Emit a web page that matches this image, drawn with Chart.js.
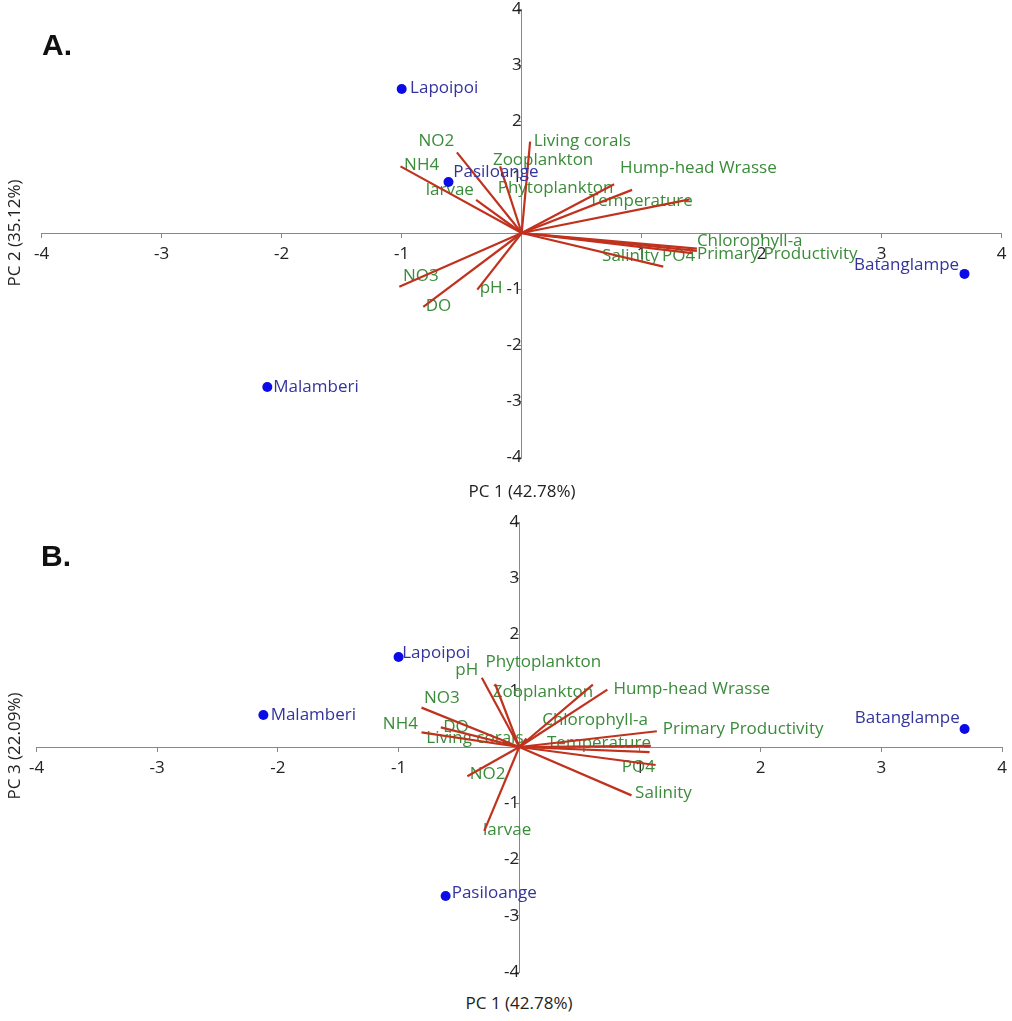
<!DOCTYPE html>
<html>
<head>
<meta charset="utf-8">
<script src="https://cdn.jsdelivr.net/npm/chart.js@4.4.0/dist/chart.umd.min.js"></script>
<style>
    body { margin: 0; background: #fff; font-family: 'Open Sans', sans-serif; }
    #page { position: relative; width: 1012px; height: 1021px; overflow: hidden; }
    canvas { position: absolute; left: 0; }
    .panel { position: absolute; font: bold 30px 'Liberation Sans', Arial, sans-serif; line-height: 30px; color: #111; }
    .xtitle, .ytitle { position: absolute; width: 300px; text-align: center; font-size: 17px; line-height: 20px; color: #222; }
    .ytitle { transform: rotate(-90deg); }
</style>
</head>
<body>
<div id="page">
    <canvas id="chartA" width="1012" height="470" style="top:0"></canvas>
    <canvas id="chartB" width="1012" height="490" style="top:500px"></canvas>
    <div class="panel" style="left:42px; top:30px">A.</div>
    <div class="panel" style="left:41px; top:541px">B.</div>
    <div class="xtitle" style="left:372px; top:481px">PC 1 (42.78%)</div>
    <div class="xtitle" style="left:369px; top:993px">PC 1 (42.78%)</div>
    <div class="ytitle" style="left:-136px; top:223px">PC 2 (35.12%)</div>
    <div class="ytitle" style="left:-136px; top:736px">PC 3 (22.09%)</div>
</div>
<script>
// variable loadings (biplot vectors)
const variables = ['NH4', 'NO2', 'larvae', 'NO3', 'DO', 'pH', 'Living corals', 'Zooplankton',
    'Phytoplankton', 'Hump-head Wrasse', 'Temperature', 'Chlorophyll-a', 'Primary Productivity', 'PO4', 'Salinity'];
const vecPC1a = [-1.01, -0.54, -0.38, -1.02, -0.82, -0.37, 0.07, -0.18, 0.77, 0.92, 1.40, 1.46, 1.46, 1.42, 1.18];
const vecPC2a = [1.19, 1.44, 0.59, -0.96, -1.32, -1.01, 1.63, 1.19, 0.87, 0.77, 0.60, -0.28, -0.32, -0.36, -0.60];
const vecPC1b = [-0.81, -0.43, -0.29, -0.81, -0.65, -0.31, 0.06, -0.20, 0.61, 0.73, 1.08, 1.09, 1.14, 1.13, 0.93];
const vecPC3b = [0.26, -0.52, -1.49, 0.70, 0.35, 1.23, 0.15, 1.12, 1.11, 1.02, -0.09, 0.02, 0.28, -0.32, -0.86];

// where the variable names sit
const varLabelXa = [-0.98, -0.86, -0.80, -0.99, -0.80, -0.35, 0.10, -0.24, -0.20, 0.82, 0.56, 1.46, 1.46, 1.17, 0.67];
const varLabelYa = [1.21, 1.64, 0.76, -0.77, -1.30, -0.99, 1.64, 1.30, 0.80, 1.16, 0.56, -0.14, -0.38, -0.42, -0.42];
const varLabelXb = [-1.13, -0.41, -0.30, -0.79, -0.63, -0.53, -0.77, -0.22, -0.28, 0.78, 0.23, 0.19, 1.19, 0.85, 0.96];
const varLabelYb = [0.41, -0.48, -1.47, 0.86, 0.36, 1.36, 0.15, 0.97, 1.51, 1.03, 0.07, 0.47, 0.31, -0.35, -0.82];

// site scores
const sites = ['Lapoipoi', 'Pasiloange', 'Malamberi', 'Batanglampe'];
const sitePC1 = [-1.00, -0.61, -2.12, 3.69];
const sitePC2 = [2.57, 0.91, -2.75, -0.73];
const sitePC3 = [1.60, -2.65, 0.57, 0.32];
const siteLabelXa = [-0.93, -0.57, -2.07, 2.77];
const siteLabelYa = [2.59, 1.09, -2.75, -0.57];
const siteLabelXb = [-0.97, -0.56, -2.06, 2.78];
const siteLabelYb = [1.66, -2.60, 0.56, 0.51];

const axisMin = -4;
const axisMax = 4;

const VECTOR_COLOR = '#c0321e';
const VAR_COLOR = '#3a8c3a';
const SITE_COLOR = '#34349c';
const LABEL_FONT = '17px "Open Sans"';

function drawTexts(chart, items, color) {
    const { ctx, scales: { x, y } } = chart;
    ctx.save();
    ctx.font = LABEL_FONT;
    ctx.fillStyle = color;
    ctx.textAlign = 'left';
    ctx.textBaseline = 'middle';
    items.forEach(it => ctx.fillText(it.text, x.getPixelForValue(it.x), y.getPixelForValue(it.y)));
    ctx.restore();
}

const labelPlugin = {
    id: 'biplotLabels',
    beforeDatasetsDraw(chart, args, opts) { drawTexts(chart, opts.varLabels, VAR_COLOR); },
    afterDatasetsDraw(chart, args, opts) { drawTexts(chart, opts.siteLabels, SITE_COLOR); }
};

function axisOptions(pos, isX) {
    return {
        type: 'linear',
        min: axisMin,
        max: axisMax,
        position: pos,
        ticks: {
            stepSize: 1,
            color: '#222',
            font: { family: 'Open Sans', size: 17 },
            padding: isX ? 7 : 5,
            maxRotation: 0,
            callback: v => (v === 0 ? '' : v)
        },
        grid: { drawOnChartArea: false, tickLength: 4, color: '#888' },
        border: { color: '#888', width: 1 },
        // axes cross at the origin: take no room from the plot area
        afterFit: s => {
            if (isX) s.height = 0; else s.width = 0;
            s.paddingTop = s.paddingBottom = s.paddingLeft = s.paddingRight = 0;
        }
    };
}

function makeBiplot(id, vx, vy, lx, ly, sy, slx, sly, padding) {
    const vectorSets = variables.map((name, i) => ({
        label: name,
        data: [{ x: 0, y: 0 }, { x: vx[i], y: vy[i] }],
        showLine: true,
        borderColor: VECTOR_COLOR,
        borderWidth: 2.2,
        pointRadius: 0
    }));
    const siteSet = {
        label: 'sites',
        data: sites.map((s, i) => ({ x: sitePC1[i], y: sy[i] })),
        pointRadius: 5,
        backgroundColor: '#0b0be8',
        borderWidth: 0
    };
    return new Chart(document.getElementById(id), {
        type: 'scatter',
        data: { datasets: [...vectorSets, siteSet] },
        options: {
            responsive: false,
            animation: false,
            layout: { padding, autoPadding: false },
            plugins: {
                legend: { display: false },
                tooltip: { enabled: false },
                biplotLabels: {
                    varLabels: variables.map((t, i) => ({ text: t, x: lx[i], y: ly[i] })),
                    siteLabels: sites.map((t, i) => ({ text: t, x: slx[i], y: sly[i] }))
                }
            },
            scales: {
                x: axisOptions({ y: 0 }, true),
                y: axisOptions({ x: 0 }, false)
            }
        },
        plugins: [labelPlugin]
    });
}

document.fonts.load(LABEL_FONT).then(() => {
    makeBiplot('chartA', vecPC1a, vecPC2a, varLabelXa, varLabelYa, sitePC2, siteLabelXa, siteLabelYa,
        { left: 41.7, right: 10.3, top: 9, bottom: 13 });
    makeBiplot('chartB', vecPC1b, vecPC3b, varLabelXb, varLabelYb, sitePC3, siteLabelXb, siteLabelYb,
        { left: 36.5, right: 10, top: 22, bottom: 18 });
});
</script>
</body>
</html>
